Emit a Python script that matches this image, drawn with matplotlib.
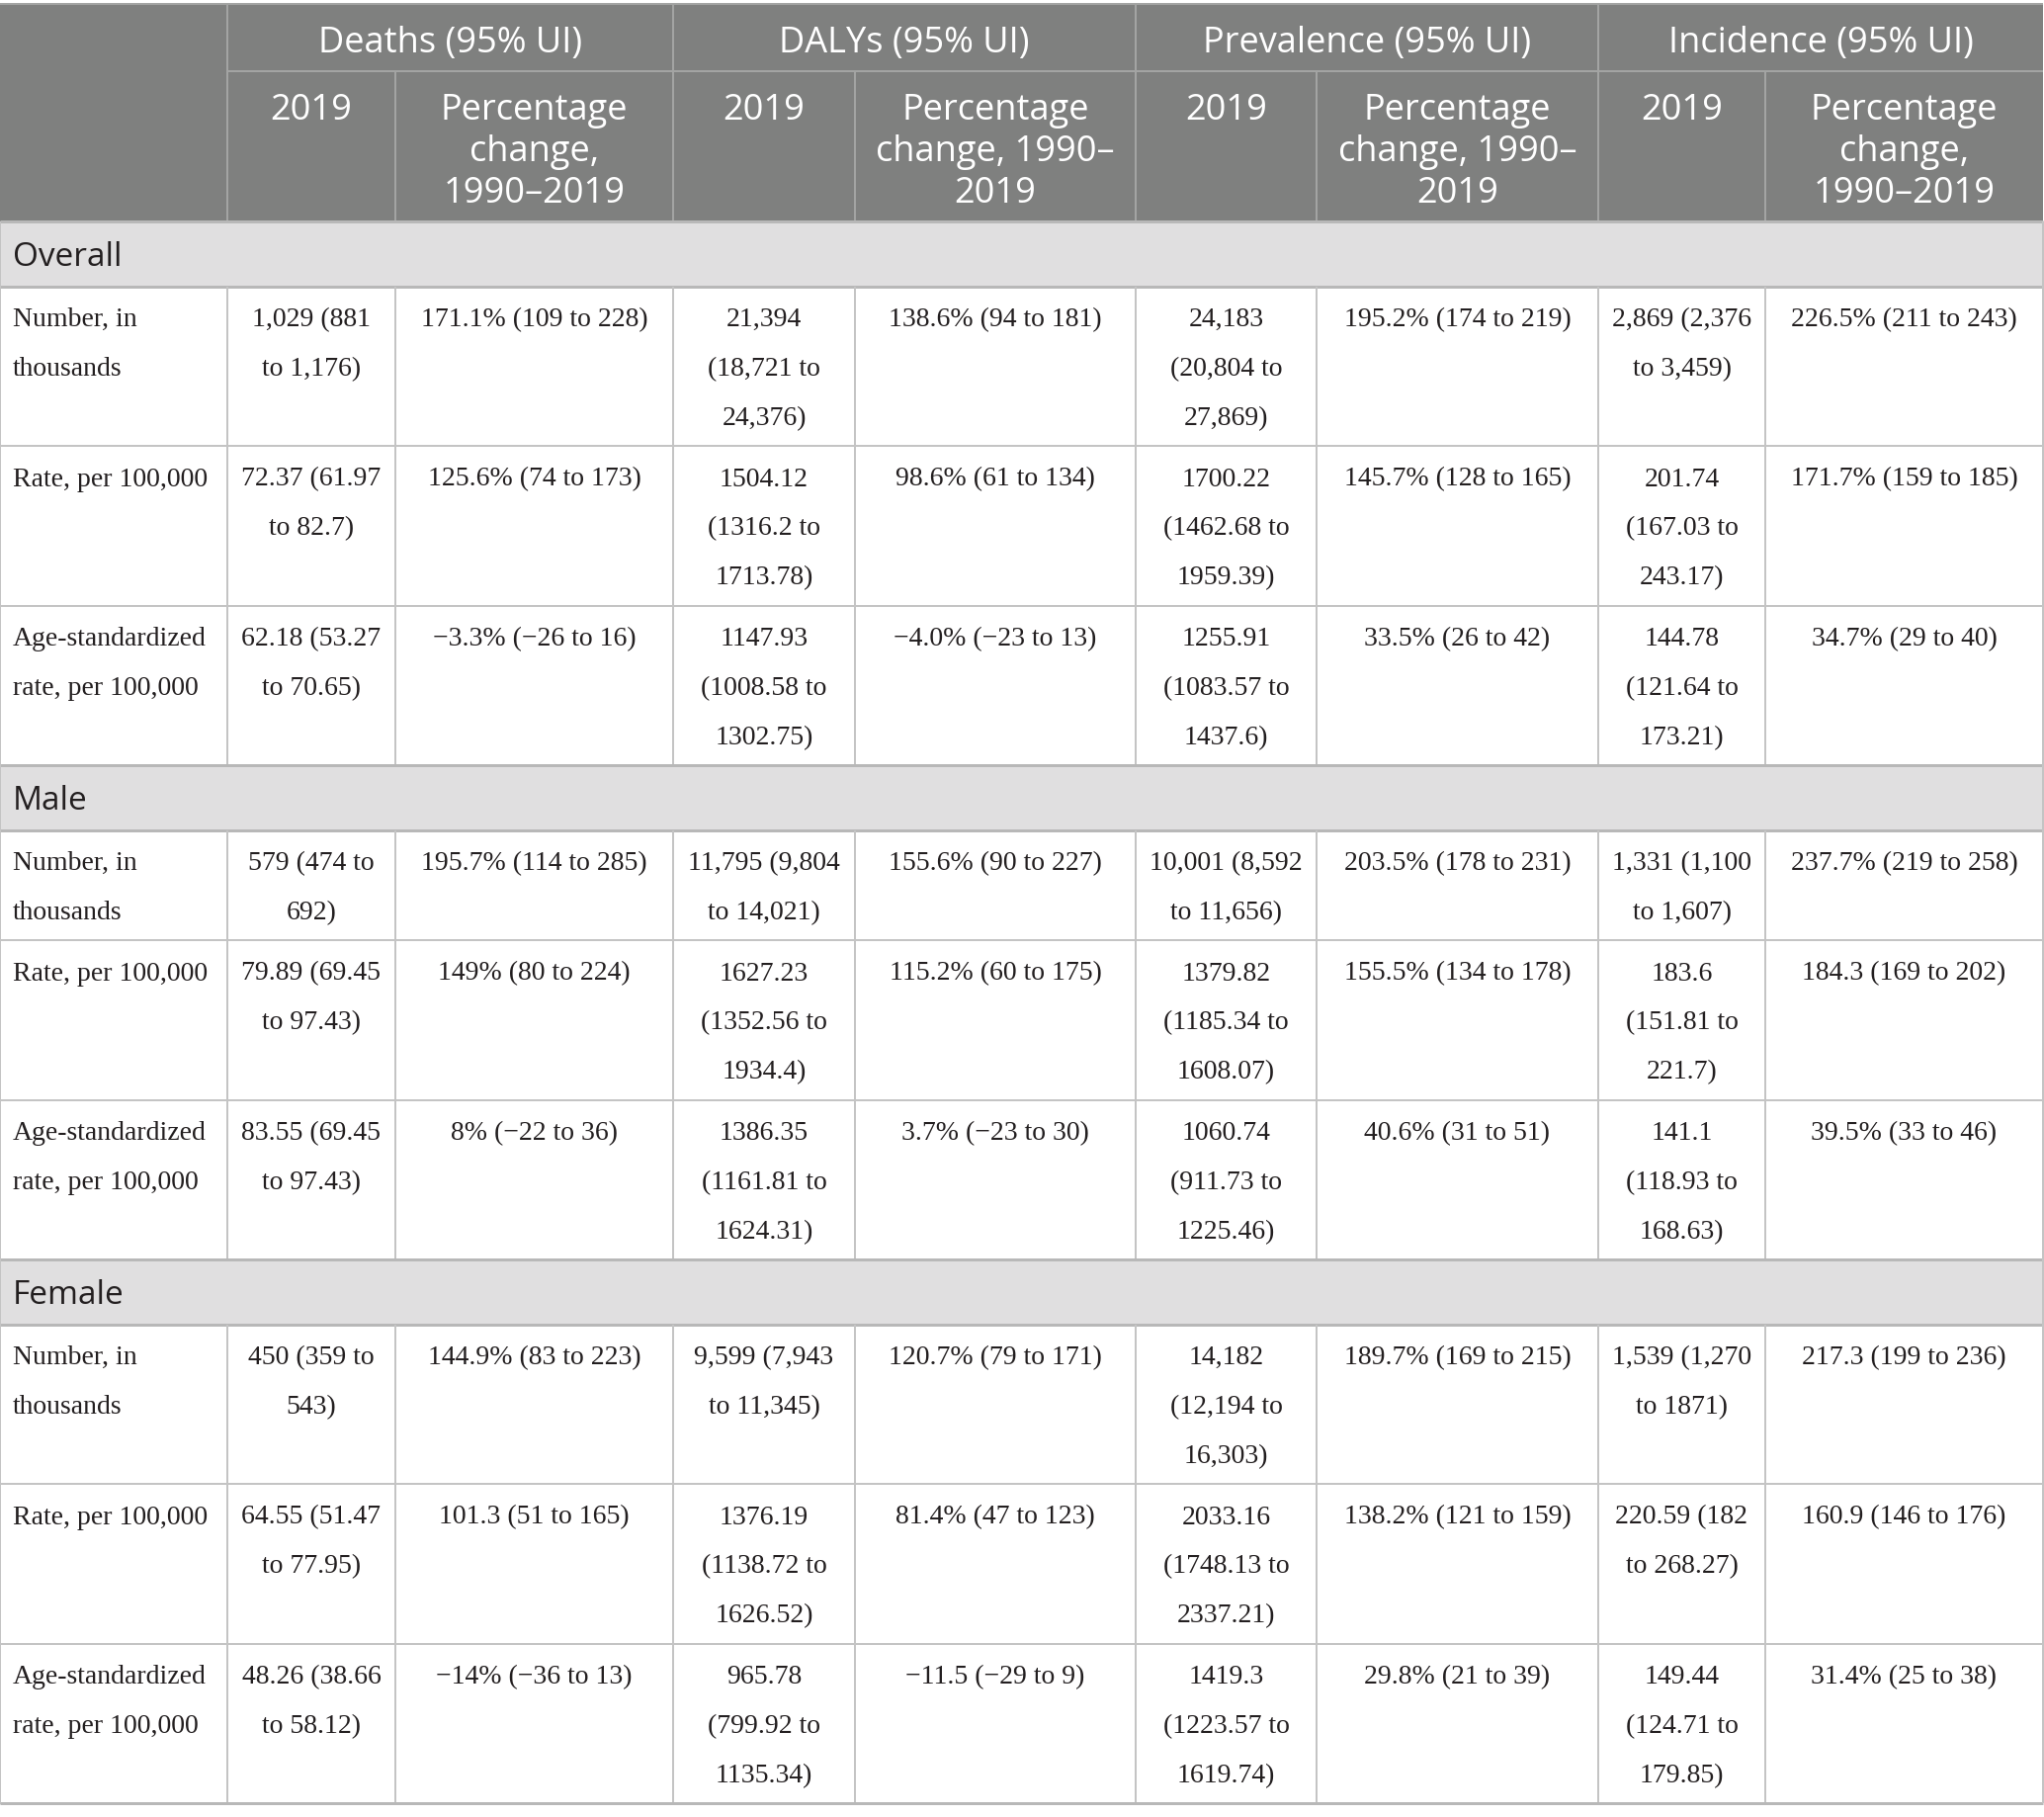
import matplotlib
matplotlib.use("Agg")
import matplotlib.pyplot as plt
from matplotlib.patches import Rectangle

W, H = 2068, 1838

# ---- data ----
measures = ["Deaths (95% UI)", "DALYs (95% UI)", "Prevalence (95% UI)", "Incidence (95% UI)"]
pct_headers = [
    ["Percentage", "change,", "1990\u20132019"],
    ["Percentage", "change, 1990\u2013", "2019"],
    ["Percentage", "change, 1990\u2013", "2019"],
    ["Percentage", "change,", "1990\u20132019"],
]
groups = ["Overall", "Male", "Female"]
row_labels = [
    "Number, in\nthousands",
    "Rate, per 100,000",
    "Age-standardized\nrate, per 100,000",
]

overall = [
    ["1,029 (881\nto 1,176)", "171.1% (109 to 228)",
     "21,394\n(18,721 to\n24,376)", "138.6% (94 to 181)",
     "24,183\n(20,804 to\n27,869)", "195.2% (174 to 219)",
     "2,869 (2,376\nto 3,459)", "226.5% (211 to 243)"],
    ["72.37 (61.97\nto 82.7)", "125.6% (74 to 173)",
     "1504.12\n(1316.2 to\n1713.78)", "98.6% (61 to 134)",
     "1700.22\n(1462.68 to\n1959.39)", "145.7% (128 to 165)",
     "201.74\n(167.03 to\n243.17)", "171.7% (159 to 185)"],
    ["62.18 (53.27\nto 70.65)", "\u22123.3% (\u221226 to 16)",
     "1147.93\n(1008.58 to\n1302.75)", "\u22124.0% (\u221223 to 13)",
     "1255.91\n(1083.57 to\n1437.6)", "33.5% (26 to 42)",
     "144.78\n(121.64 to\n173.21)", "34.7% (29 to 40)"],
]
male = [
    ["579 (474 to\n692)", "195.7% (114 to 285)",
     "11,795 (9,804\nto 14,021)", "155.6% (90 to 227)",
     "10,001 (8,592\nto 11,656)", "203.5% (178 to 231)",
     "1,331 (1,100\nto 1,607)", "237.7% (219 to 258)"],
    ["79.89 (69.45\nto 97.43)", "149% (80 to 224)",
     "1627.23\n(1352.56 to\n1934.4)", "115.2% (60 to 175)",
     "1379.82\n(1185.34 to\n1608.07)", "155.5% (134 to 178)",
     "183.6\n(151.81 to\n221.7)", "184.3 (169 to 202)"],
    ["83.55 (69.45\nto 97.43)", "8% (\u221222 to 36)",
     "1386.35\n(1161.81 to\n1624.31)", "3.7% (\u221223 to 30)",
     "1060.74\n(911.73 to\n1225.46)", "40.6% (31 to 51)",
     "141.1\n(118.93 to\n168.63)", "39.5% (33 to 46)"],
]
female = [
    ["450 (359 to\n543)", "144.9% (83 to 223)",
     "9,599 (7,943\nto 11,345)", "120.7% (79 to 171)",
     "14,182\n(12,194 to\n16,303)", "189.7% (169 to 215)",
     "1,539 (1,270\nto 1871)", "217.3 (199 to 236)"],
    ["64.55 (51.47\nto 77.95)", "101.3 (51 to 165)",
     "1376.19\n(1138.72 to\n1626.52)", "81.4% (47 to 123)",
     "2033.16\n(1748.13 to\n2337.21)", "138.2% (121 to 159)",
     "220.59 (182\nto 268.27)", "160.9 (146 to 176)"],
    ["48.26 (38.66\nto 58.12)", "\u221214% (\u221236 to 13)",
     "965.78\n(799.92 to\n1135.34)", "\u221211.5 (\u221229 to 9)",
     "1419.3\n(1223.57 to\n1619.74)", "29.8% (21 to 39)",
     "149.44\n(124.71 to\n179.85)", "31.4% (25 to 38)"],
]
group_rows = [overall, male, female]

# ---- layout (pixels) ----
col_x = [0, 230, 400, 681, 865, 1149, 1332, 1617, 1786, 2067]
top = 4
h_head1 = 68
h_head2 = 152
h_band = 65.5
line_h = 50

HEAD_BG = "#7f807f"
HEAD_LINE = "#a3a4a3"
BAND_BG = "#e0dfe0"
GRID = "#c4c4c4"
BAND_LINE = "#b8b8b8"
TXT = "#231f20"

sans = ["Open Sans", "DejaVu Sans"]
serif = ["Liberation Serif", "DejaVu Serif"]
fs_body = 20.0
fs_head = 26
fs_band = 24

fig = plt.figure(figsize=(W / 100, H / 100), dpi=100)
ax = fig.add_axes([0, 0, 1, 1])
ax.set_xlim(0, W)
ax.set_ylim(H, 0)
ax.axis("off")

def hline(y, x0, x1, color, lw=2):
    ax.plot([x0, x1], [y, y], color=color, lw=lw * 0.72, solid_capstyle="butt")

def vline(x, y0, y1, color, lw=2):
    ax.plot([x, x], [y0, y1], color=color, lw=lw * 0.72, solid_capstyle="butt")

# header
y_h2 = top + h_head1
y_body = y_h2 + h_head2
ax.add_patch(Rectangle((0, top), col_x[-1], h_head1 + h_head2, color=HEAD_BG, lw=0))
for i, m in enumerate(measures):
    x0, x1 = col_x[1 + 2 * i], col_x[3 + 2 * i]
    ax.text((x0 + x1) / 2, top + 40, m, ha="center", va="center",
            color="white", fontsize=fs_head, family=sans)
    c0 = (col_x[1 + 2 * i] + col_x[2 + 2 * i]) / 2
    ax.text(c0, y_h2 + 40, "2019", ha="center", va="center",
            color="white", fontsize=fs_head, family=sans)
    c1 = (col_x[2 + 2 * i] + col_x[3 + 2 * i]) / 2
    for k, ln in enumerate(pct_headers[i]):
        ax.text(c1, y_h2 + 40 + k * 42, ln, ha="center", va="center",
                color="white", fontsize=fs_head, family=sans)
hline(y_h2, col_x[1], col_x[-1], HEAD_LINE)
hline(top, 0, col_x[-1], HEAD_LINE)
for j, x in enumerate(col_x[1:-1]):
    if j % 2 == 0:
        vline(x, top, y_body, HEAD_LINE)
    else:
        vline(x, y_h2, y_body, HEAD_LINE)

# body
y = y_body
for g, rows in zip(groups, group_rows):
    ax.add_patch(Rectangle((0, y), col_x[-1], h_band, color=BAND_BG, lw=0))
    ax.text(13, y + h_band / 2 + 4, g, ha="left", va="center",
            color=TXT, fontsize=fs_band, family=sans)
    hline(y, 0, col_x[-1], BAND_LINE, 3)
    y += h_band
    hline(y, 0, col_x[-1], BAND_LINE, 3)
    for lab, vals in zip(row_labels, rows):
        cells = [lab] + vals
        n = max(c.count("\n") + 1 for c in cells)
        rh = n * line_h + 11.5
        for c, txt in enumerate(cells):
            for k, ln in enumerate(txt.split("\n")):
                if c == 0:
                    ax.text(13, y + 34 + k * line_h, ln, ha="left", va="center",
                            color=TXT, fontsize=fs_body, family=serif)
                else:
                    ax.text((col_x[c] + col_x[c + 1]) / 2, y + 34 + k * line_h, ln,
                            ha="center", va="center", color=TXT,
                            fontsize=fs_body, family=serif)
        for x in col_x[1:-1]:
            vline(x, y, y + rh, GRID)
        y += rh
        hline(y, 0, col_x[-1], GRID)
hline(y, 0, col_x[-1], BAND_LINE, 3)
vline(0, y_body, y, GRID)
vline(col_x[-1], y_body, y, GRID)

fig.savefig("out.png", dpi=100, facecolor="white")
